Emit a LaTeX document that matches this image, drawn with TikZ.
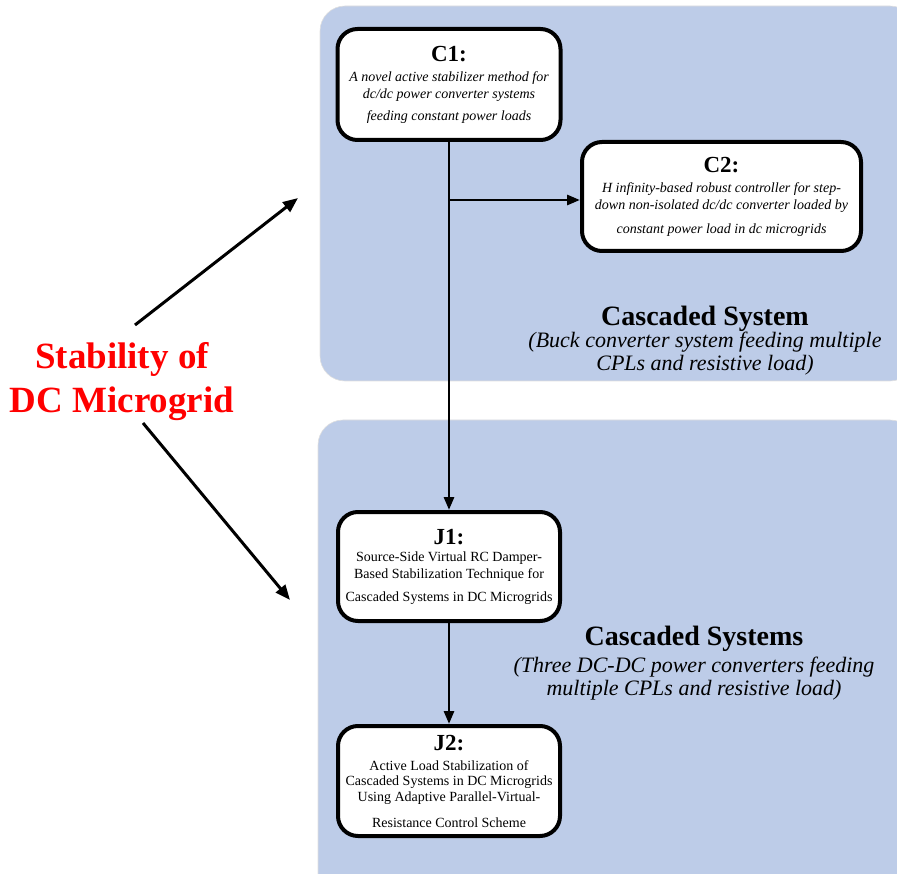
\documentclass[tikz,border=0pt]{standalone}
\usepackage{fontspec}
\setmainfont{Liberation Serif}
\usetikzlibrary{positioning,arrows.meta}
\definecolor{panel}{RGB}{189,204,232}
\definecolor{stabred}{RGB}{255,0,0}

\begin{document}
\begin{tikzpicture}[x=1pt, y=-1pt,
  bg/.style={fill=panel, draw=gray!25, line width=0.6pt, rounded corners=25pt},
  b/.style={draw, line width=4pt, rounded corners=20pt, fill=white, align=center, inner sep=0pt,
    font=\fontsize{14}{17}\selectfont},
  bc/.style={b, font=\fontsize{14}{17}\selectfont\itshape},
  hd/.style={align=center, font=\fontsize{22}{23}\selectfont\itshape},
  a/.style={line width=2.8pt, -{Triangle[length=13pt,width=10pt]}},
  aa/.style={line width=3pt, -{Triangle[length=15pt,width=12pt]}}]
\useasboundingbox (0,0) rectangle (897,874);
% panels
\path[bg] (320,6) rectangle (915,381);
\path[bg] (318,420) rectangle (915,900);
% papers
\node[bc, minimum width=223pt, minimum height=111pt] (c1) at (449,84.5)
  {{\upshape\bfseries\fontsize{23}{23}\selectfont C1:}\\[3pt]
   A novel active stabilizer method for\\ dc/dc power converter systems\\[5pt]
   feeding constant power loads};
\node[bc, minimum width=279pt, minimum height=109pt] (c2) at (721.5,196.5)
  {{\upshape\bfseries\fontsize{23}{23}\selectfont C2:}\\[3pt]
   H infinity-based robust controller for step-\\ down non-isolated dc/dc converter loaded by\\[7pt]
   constant power load in dc microgrids};
\node[b, minimum width=222pt, minimum height=109pt] (j1) at (449,566.5)
  {{\bfseries\fontsize{23}{23}\selectfont J1:}\\[0pt]
   Source-Side Virtual RC Damper-\\ Based Stabilization Technique for\\[6pt]
   Cascaded Systems in DC Microgrids};
\node[b, minimum width=222pt, minimum height=110pt] (j2) at (449,781)
  {{\bfseries\fontsize{23}{23}\selectfont J2:}\\[3pt]
   Active Load Stabilization of\\[-2pt] Cascaded Systems in DC Microgrids\\[-1pt]
   Using Adaptive Parallel-Virtual-\\[9pt] Resistance Control Scheme};
% group labels
\node[hd] (cs1) at (705,341)
  {{\upshape\bfseries\fontsize{28}{28}\selectfont Cascaded System}\\[-1pt]
   (Buck converter system feeding multiple\\ CPLs and resistive load)};
\node[hd] (cs2) at (694,663)
  {{\upshape\bfseries\fontsize{28}{28}\selectfont Cascaded Systems}\\[4pt]
   (Three DC-DC power converters feeding\\ multiple CPLs and resistive load)};
\node[align=center, text=stabred, font=\fontsize{37}{44}\selectfont\bfseries] (stab) at (122,382)
  {Stability of\\ DC Microgrid};
% connectors
\coordinate (br) at (c1.south |- 0,200);
\draw[a] (c1.south) -- (c1.south |- j1.north);
\draw[a] (br) -- (br -| c2.west);
\draw[a] (j1) -- (j2);
\coordinate (up0) at (135,325); \coordinate (up1) at (298,198);
\coordinate (dn0) at (143,423); \coordinate (dn1) at (290,600);
\draw[aa] (up0) -- (up1);
\draw[aa] (dn0) -- (dn1);
\end{tikzpicture}
\end{document}
